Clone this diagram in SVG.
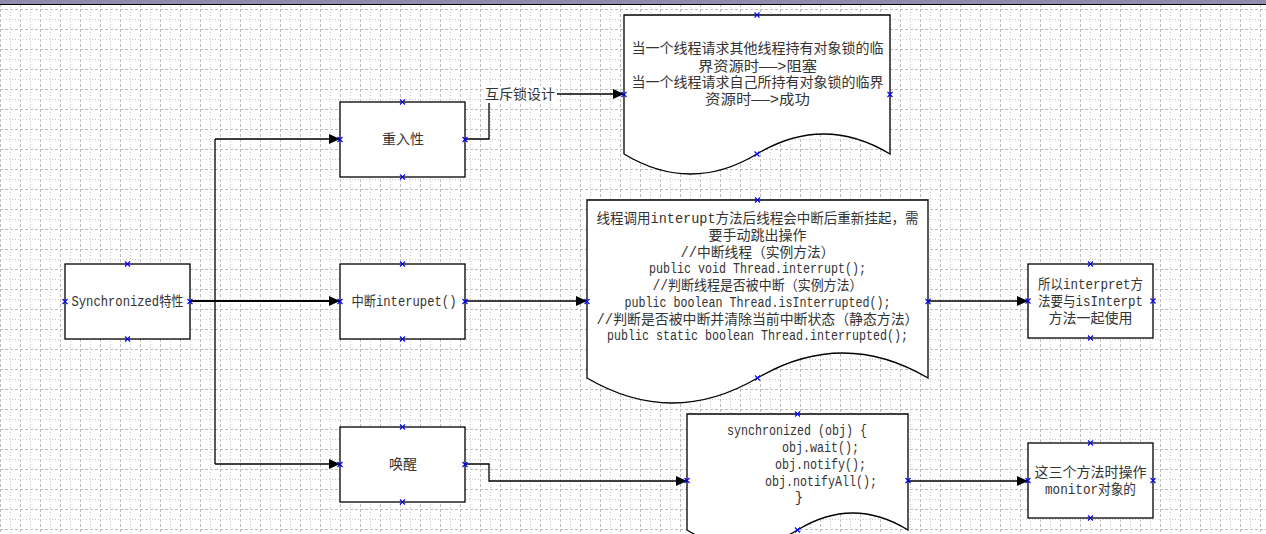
<svg xmlns="http://www.w3.org/2000/svg" width="1266" height="534" viewBox="0 0 1266 534">
<defs>
<pattern id="grid" x="0" y="9" width="20" height="20" patternUnits="userSpaceOnUse">
<path d="M0.5 0V20M0 0.5H20" stroke="#bcbcbc" stroke-width="1" stroke-dasharray="3,2" fill="none"/>
<path d="M10.5 0V20M0 10.5H20" stroke="#c8c8c8" stroke-width="1" stroke-dasharray="1,2" fill="none"/>
</pattern>
<marker id="arr" markerWidth="12" markerHeight="10" refX="11" refY="5" orient="auto" markerUnits="userSpaceOnUse">
<path d="M0 0L11 5L0 10Z" fill="#000"/>
</marker>
<path id="x" d="M-2.5 -2.5L2.5 2.5M-2.5 2.5L2.5 -2.5" stroke="#0000ff" stroke-width="1.1" fill="none"/>
<style>
.box{fill:#fff;stroke:#000;stroke-width:1.3}
.c{fill:none;stroke:#000;stroke-width:1.3}
.t{font-family:"Liberation Mono","Noto Sans CJK SC",monospace;font-size:14px;fill:#333;text-anchor:middle}
</style>
</defs>
<rect x="0" y="0" width="1266" height="534" fill="#fff"/>
<rect x="0" y="5" width="1266" height="529" fill="url(#grid)"/>
<rect x="0" y="0" width="1266" height="4" fill="#8f8dab"/>
<line x1="0" y1="4.5" x2="1266" y2="4.5" stroke="#000" stroke-width="1"/>

<g id="connectors">
<polyline class="c" points="190,301 215,301"/>
<polyline class="c" points="215,139 215,464"/>
<polyline class="c" points="215,139 340,139" marker-end="url(#arr)"/>
<polyline class="c" style="stroke-width:2" points="190,301 340,301" marker-end="url(#arr)"/>
<polyline class="c" points="215,464 340,464" marker-end="url(#arr)"/>
<polyline class="c" points="465,139 489,139 489,103"/>
<polyline class="c" points="557,94 624,94" marker-end="url(#arr)"/>
<polyline class="c" points="465,301 587,301" marker-end="url(#arr)"/>
<polyline class="c" points="928,301 1028,301" marker-end="url(#arr)"/>
<polyline class="c" points="465,464 489,464 489,481 687,481" marker-end="url(#arr)"/>
<polyline class="c" points="908,481 1028,481" marker-end="url(#arr)"/>
<rect x="484" y="86" width="72" height="17" fill="#fff"/>
<text class="t" x="520" y="99">互斥锁设计</text>
</g>

<g id="node-synchronized">
<rect class="box" x="65" y="264" width="125" height="75"/>
<text class="t" x="127.5" y="306" textLength="112" lengthAdjust="spacingAndGlyphs">Synchronized特性</text>
<use href="#x" x="127.5" y="264"/><use href="#x" x="127.5" y="339"/><use href="#x" x="65" y="301.5"/><use href="#x" x="190" y="301.5"/>
</g>

<g id="node-reentrant">
<rect class="box" x="340" y="102" width="125" height="75"/>
<text class="t" x="403" y="144">重入性</text>
<use href="#x" x="402.5" y="102"/><use href="#x" x="402.5" y="177"/><use href="#x" x="340" y="139.5"/><use href="#x" x="465" y="139.5"/>
</g>

<g id="node-interrupt">
<rect class="box" x="340" y="264" width="125" height="75"/>
<text class="t" x="404" y="306" textLength="105" lengthAdjust="spacingAndGlyphs">中断interupet()</text>
<use href="#x" x="402.5" y="264"/><use href="#x" x="402.5" y="339"/><use href="#x" x="340" y="301.5"/><use href="#x" x="465" y="301.5"/>
</g>

<g id="node-wake">
<rect class="box" x="340" y="427" width="125" height="75"/>
<text class="t" x="403" y="469">唤醒</text>
<use href="#x" x="402.5" y="427"/><use href="#x" x="402.5" y="502"/><use href="#x" x="340" y="464.5"/><use href="#x" x="465" y="464.5"/>
</g>

<g id="node-doc-lock">
<path class="box" d="M624 15H890V154Q823.5 114 757 154T624 154Z"/>
<text class="t" x="757.5" y="53">当一个线程请求其他线程持有对象锁的临</text>
<text class="t" x="757.5" y="70.5" textLength="119" lengthAdjust="spacingAndGlyphs">界资源时——&gt;阻塞</text>
<text class="t" x="757.5" y="87">当一个线程请求自己所持有对象锁的临界</text>
<text class="t" x="757.5" y="104" textLength="105" lengthAdjust="spacingAndGlyphs">资源时——&gt;成功</text>
<use href="#x" x="757" y="15"/><use href="#x" x="757" y="154"/><use href="#x" x="624" y="94.5"/><use href="#x" x="890" y="94.5"/>
</g>

<g id="node-doc-interrupt">
<path class="box" d="M587 200H928V378Q842.75 328 757.5 378T587 378Z"/>
<text class="t" x="757.5" y="223" textLength="322" lengthAdjust="spacingAndGlyphs">线程调用interupt方法后线程会中断后重新挂起，需</text>
<text class="t" x="757.5" y="240">要手动跳出操作</text>
<text class="t" x="757.5" y="256.5" textLength="154" lengthAdjust="spacingAndGlyphs">//中断线程（实例方法）</text>
<text class="t" x="757.5" y="273" textLength="217" lengthAdjust="spacingAndGlyphs">public void Thread.interrupt();</text>
<text class="t" x="757.5" y="290" textLength="210" lengthAdjust="spacingAndGlyphs">//判断线程是否被中断（实例方法）</text>
<text class="t" x="757.5" y="306.5" textLength="266" lengthAdjust="spacingAndGlyphs">public boolean Thread.isInterrupted();</text>
<text class="t" x="757.5" y="323.5" textLength="322" lengthAdjust="spacingAndGlyphs">//判断是否被中断并清除当前中断状态（静态方法）</text>
<text class="t" x="757.5" y="340" textLength="301" lengthAdjust="spacingAndGlyphs">public static boolean Thread.interrupted();</text>
<use href="#x" x="757.5" y="200"/><use href="#x" x="757.5" y="378"/><use href="#x" x="587" y="301.5"/><use href="#x" x="928" y="301.5"/>
</g>

<g id="node-doc-sync">
<path class="box" d="M687 414H908V530Q852.75 496 797.5 530T687 530Z"/>
<text class="t" x="797" y="435" textLength="140" lengthAdjust="spacingAndGlyphs">synchronized (obj) {</text>
<text class="t" x="820.5" y="452" textLength="77" lengthAdjust="spacingAndGlyphs">obj.wait();</text>
<text class="t" x="820.5" y="469" textLength="91" lengthAdjust="spacingAndGlyphs">obj.notify();</text>
<text class="t" x="821" y="486" textLength="112" lengthAdjust="spacingAndGlyphs">obj.notifyAll();</text>
<text class="t" x="799" y="502">}</text>
<use href="#x" x="797.5" y="414"/><use href="#x" x="797.5" y="530"/><use href="#x" x="687" y="480.5"/><use href="#x" x="908" y="480.5"/>
</g>

<g id="node-use-together">
<rect class="box" x="1028" y="264" width="125" height="74"/>
<text class="t" x="1090.5" y="289" textLength="105" lengthAdjust="spacingAndGlyphs">所以interpret方</text>
<text class="t" x="1090.5" y="306" textLength="105" lengthAdjust="spacingAndGlyphs">法要与isInterpt</text>
<text class="t" x="1090.5" y="323">方法一起使用</text>
<use href="#x" x="1090.5" y="264"/><use href="#x" x="1090.5" y="338"/><use href="#x" x="1028" y="301"/><use href="#x" x="1153" y="301"/>
</g>

<g id="node-monitor">
<rect class="box" x="1028" y="443" width="125" height="75"/>
<text class="t" x="1090.5" y="477">这三个方法时操作</text>
<text class="t" x="1090.5" y="494" textLength="91" lengthAdjust="spacingAndGlyphs">monitor对象的</text>
<use href="#x" x="1090.5" y="443"/><use href="#x" x="1090.5" y="518"/><use href="#x" x="1028" y="480.5"/><use href="#x" x="1153" y="480.5"/>
</g>
</svg>
